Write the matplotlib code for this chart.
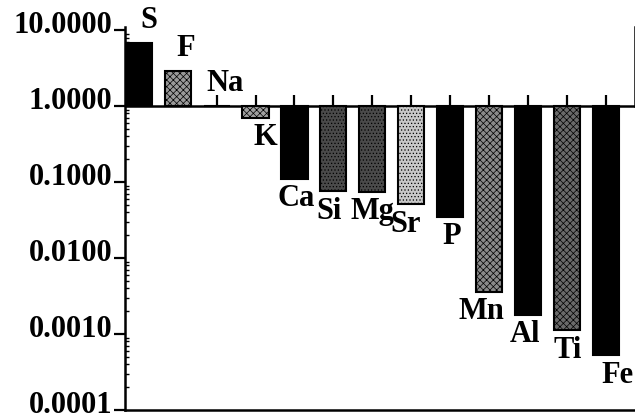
import numpy as np
import matplotlib
matplotlib.use('Agg')
import matplotlib.pyplot as plt
import matplotlib.transforms as mtransforms

# element ratios (log scale, bars start at 1.0)
elements = ['S', 'F', 'Na', 'K', 'Ca', 'Si', 'Mg', 'Sr', 'P', 'Mn', 'Al', 'Ti', 'Fe']
ratios = [6.8, 2.9, 1.0, 0.70, 0.11, 0.076, 0.075, 0.051, 0.035, 0.0036, 0.0018, 0.00113, 0.00053]
faces = ['black', '#9a9a9a', 'white', '#a0a0a0', 'black', '#4a4a4a', '#4a4a4a',
         '#c8c8c8', 'black', '#8a8a8a', 'black', '#6a6a6a', 'black']
hatches = ['', 'xxxxx', '', 'xxxxx', '', '.....', '.....', '.....', '', 'xxxxx', '', 'xxxxx', '']
ytick_vals = [0.0001, 0.001, 0.01, 0.1, 1.0, 10.0]
# sideways nudge of each label, in points
label_dx = [7, 6, 6, 7, 1, -3, 0, -4, 1, -6, -2, 0, 8]

plt.rcParams['hatch.linewidth'] = 0.5

fig = plt.figure(figsize=(6.35, 4.19), dpi=100)
ax = fig.add_axes([125/635, 9/419, 510/635, 383/419])

x = np.arange(len(elements))
base = 1.0
heights = [r - base for r in ratios]
bars = ax.bar(x, heights, bottom=base, width=0.67, color=faces,
              edgecolor='black', linewidth=1.5, zorder=2)
for b, h in zip(bars, hatches):
    if h:
        b.set_hatch(h)

ax.set_yscale('log')
ax.set_ylim(1e-4, 11)
ax.set_xlim(-0.35, 12.74)

# line at 1.0 with upward ticks at each element
ax.axhline(base, color='black', lw=1.8, zorder=1)
ax.plot(x, [base]*len(x), ls='', marker=2, ms=8, mew=1.6, color='black', zorder=1)

for i, (el, r) in enumerate(zip(elements, ratios)):
    if r >= base:
        ax.annotate(el, (i, r), xytext=(label_dx[i], 6), textcoords='offset points',
                    ha='center', va='bottom', fontsize=22, fontweight='bold',
                    family='Liberation Serif')
    else:
        ax.annotate(el, (i, r), xytext=(label_dx[i], -4), textcoords='offset points',
                    ha='center', va='top', fontsize=22, fontweight='bold',
                    family='Liberation Serif')

ax.set_yticks(ytick_vals)
ax.set_yticklabels(['%.4f' % v for v in ytick_vals], fontsize=22,
                   fontweight='bold', family='Liberation Serif')
ax.tick_params(axis='y', which='major', direction='out', length=8, width=1.6, pad=1)
ax.tick_params(axis='y', which='minor', direction='in', length=3, width=1.0)
ax.set_xticks([])
shift = mtransforms.ScaledTranslation(0, 6/72, fig.dpi_scale_trans)
for lab in ax.get_yticklabels():
    lab.set_transform(lab.get_transform() + shift)

ax.spines['top'].set_visible(False)
ax.spines['right'].set_bounds(1.0, 11)
for s in ['left', 'bottom', 'right']:
    ax.spines[s].set_linewidth(1.8)

fig.savefig('out.png', dpi=100)
